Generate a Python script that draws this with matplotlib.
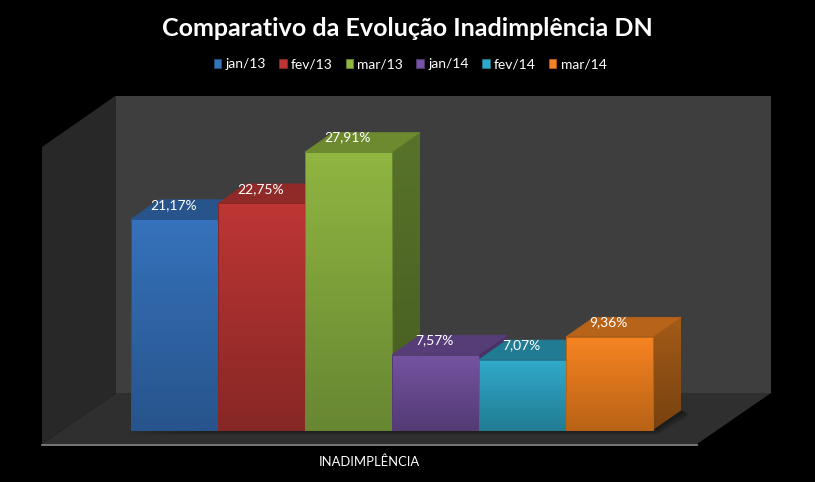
import numpy as np
import matplotlib
matplotlib.use("Agg")
import matplotlib.pyplot as plt
from matplotlib.colors import LinearSegmentedColormap
from matplotlib.patches import Patch, Polygon

periods = ["jan/13", "fev/13", "mar/13", "jan/14", "fev/14", "mar/14"]
values = [21.17, 22.75, 27.91, 7.57, 7.07, 9.36]
labels = ["21,17%", "22,75%", "27,91%", "7,57%", "7,07%", "9,36%"]
series_name = "INADIMPLÊNCIA"
title = "Comparativo da Evolução Inadimplência DN"

# front top, front bottom, roof, side top, side bottom
front_top = ["#3672bb", "#bd3634", "#90b541", "#7653a2", "#30aacb", "#f78422"]
front_bottom = ["#27548c", "#872725", "#688732", "#533b75", "#227c94", "#b96316"]
roof = ["#26548b", "#8f2a28", "#6d8a2e", "#573d78", "#217b92", "#b7631a"]
side_top = ["#25528a", "#7c2422", "#587329", "#4b3569", "#1c6a80", "#a35b17"]
side_bottom = ["#1d4069", "#5c1b19", "#465c21", "#38284f", "#155061", "#774210"]

plt.rcParams["font.family"] = ["Lato", "DejaVu Sans"]

W, H = 815, 482
PX_X = 87.0     # pixels per bar
PX_Y = 9.96     # pixels per percentage point
X0, Y0 = 131, 430   # where bar 0 meets the 0% line

fig = plt.figure(figsize=(W / 100, H / 100), dpi=100, facecolor="black")
ax = fig.add_axes([0, 0, 1, 1])
ax.set_xlim(-X0 / PX_X, (W - X0) / PX_X)
ax.set_ylim((Y0 - H) / PX_Y, Y0 / PX_Y)
ax.axis("off")

# depth of the 3D bars, in data units
dx = 28 / PX_X
dy = 19.5 / PX_Y


# pixel position of the box to data units
def bx(p):
    return (p - X0) / PX_X


def by(p):
    return (Y0 - p) / PX_Y


def gradient_poly(pts, top, bottom, z):
    poly = Polygon(pts, closed=True, facecolor="none", edgecolor="none", zorder=z)
    ax.add_patch(poly)
    cmap = LinearSegmentedColormap.from_list("g", [top, bottom])
    xs = [p[0] for p in pts]
    ys = [p[1] for p in pts]
    im = ax.imshow(np.linspace(0, 1, 64).reshape(-1, 1), cmap=cmap, aspect="auto",
                   extent=[min(xs), max(xs), min(ys), max(ys)], origin="upper", zorder=z)
    im.set_clip_path(poly)


# walls and floor
back = [(bx(116), by(95.5)), (bx(771), by(95.5)), (bx(771), by(393)), (bx(116), by(393))]
left = [(bx(42), by(147)), (bx(116), by(95.5)), (bx(116), by(393)), (bx(42), by(444))]
floor = [(bx(42), by(444)), (bx(116), by(393)), (bx(771), by(393)), (bx(697), by(444))]
ax.add_patch(Polygon(back, closed=True, facecolor="#3e3e3e", edgecolor="none", zorder=1))
ax.add_patch(Polygon(left, closed=True, facecolor="#282828", edgecolor="none", zorder=1))
ax.add_patch(Polygon(floor, closed=True, facecolor="#2f2f2f", edgecolor="none", zorder=1))
ax.plot([bx(42), bx(697)], [by(445), by(445)], color="#8c8c8c", lw=1.2, zorder=2)

# soft shadow under the bars
n = len(values)
for k in range(6):
    grow = (6 - k) * 0.8
    ax.add_patch(Polygon([(-grow / PX_X, -grow / PX_Y), (n + grow / PX_X, -grow / PX_Y),
                          (n + dx + (grow + 4) / PX_X, dy - grow / PX_Y), (n + dx, dy)],
                         closed=True, facecolor="black", alpha=0.07, edgecolor="none", zorder=2))

# bars, left to right so the next bar covers the side of the previous
for i, v in enumerate(values):
    z = 3 + i
    gradient_poly([(i + 1, 0), (i + 1 + dx, dy), (i + 1 + dx, v + dy), (i + 1, v)],
                  side_top[i], side_bottom[i], z)
    ax.add_patch(Polygon([(i, v), (i + dx, v + dy), (i + 1 + dx, v + dy), (i + 1, v)],
                         closed=True, facecolor=roof[i], edgecolor=roof[i],
                         lw=0.5, zorder=z))
    gradient_poly([(i, 0), (i + 1, 0), (i + 1, v), (i, v)], front_top[i], front_bottom[i], z)
    ax.add_patch(Polygon([(i, 0), (i + 1, 0), (i + 1, v), (i, v)], closed=True,
                         facecolor="none", edgecolor=front_bottom[i], lw=0.7, zorder=z))

ax.set_xlim(-X0 / PX_X, (W - X0) / PX_X)
ax.set_ylim((Y0 - H) / PX_Y, Y0 / PX_Y)

for i, v in enumerate(values):
    ax.text(i + 0.49, v + 1.45, labels[i], color="white", fontsize=10, ha="center",
            va="center", zorder=20)

ax.text(bx(369), by(462), series_name, color="white", fontsize=9.4, ha="center",
        va="center", zorder=20)
fig.text(407 / W, 1 - 28 / H, title, color="white", fontsize=18, fontweight="bold",
         ha="center", va="center")

handles = [Patch(facecolor=c, edgecolor=r, lw=0.5) for c, r in zip(front_top, roof)]
ax.legend(handles, periods, ncol=6, loc="center", bbox_to_anchor=(410 / W, 1 - 64.5 / H),
          frameon=False, fontsize=10, labelcolor="white", handlelength=0.55,
          handleheight=0.55, handletextpad=0.3, columnspacing=0.95, borderpad=0)

fig.savefig("out.png", dpi=100, facecolor="black")
